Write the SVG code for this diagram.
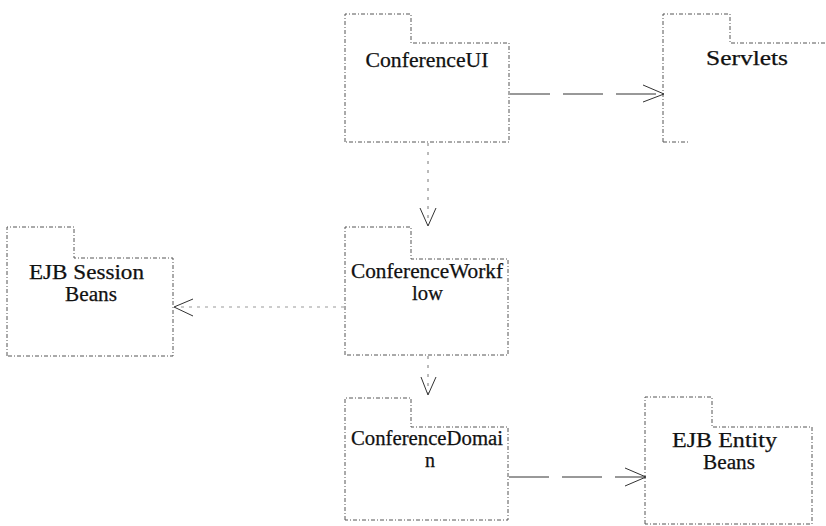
<svg xmlns="http://www.w3.org/2000/svg" width="826" height="526" viewBox="0 0 826 526">
  <defs>
    <style>
      .pkg { fill: none; stroke: #555; stroke-width: 1; stroke-dasharray: 4 2 1 2; }
      .lbl { font-family: "Liberation Serif", "DejaVu Serif", serif; font-size: 20px; fill: #111; stroke: #111; stroke-width: 0.25; text-anchor: middle; }
      .dep { fill: none; stroke: #333; stroke-width: 1; }
      .dash-h { stroke-dasharray: 40 13; }
      .dash-v { stroke-dasharray: 3 6; stroke: #777; }
      .dash-w { stroke-dasharray: 3 5; stroke: #999; }
      .head { fill: none; stroke: #333; stroke-width: 1; }
    </style>
  </defs>
  <rect width="826" height="526" fill="#fff"/>

  <!-- packages: tab + body outline -->
  <g id="conference-ui">
    <path class="pkg" d="M345,142 V14 H411 V43 H509 V142 Z"/>
    <text class="lbl" x="427" y="67" textLength="123" lengthAdjust="spacingAndGlyphs">ConferenceUI</text>
  </g>

  <g id="servlets">
    <path class="pkg" d="M663,142 V14 H730 V43 H830 M663,142 H690"/>
    <text class="lbl" x="747" y="65" textLength="82" lengthAdjust="spacingAndGlyphs">Servlets</text>
  </g>

  <g id="ejb-session-beans">
    <path class="pkg" d="M7,356 V227 H74 V258 H173 V356 Z"/>
    <text class="lbl"><tspan x="86.5" y="279" textLength="115" lengthAdjust="spacingAndGlyphs">EJB Session</tspan><tspan x="91" y="301" textLength="52" lengthAdjust="spacingAndGlyphs">Beans</tspan></text>
  </g>

  <g id="conference-workflow">
    <path class="pkg" d="M345,355 V227 H411 V259 H508 V355 Z"/>
    <text class="lbl"><tspan x="427" y="278" textLength="152" lengthAdjust="spacingAndGlyphs">ConferenceWorkf</tspan><tspan x="427.5" y="300" textLength="31" lengthAdjust="spacingAndGlyphs">low</tspan></text>
  </g>

  <g id="conference-domain">
    <path class="pkg" d="M345,520 V398 H411 V427 H508 V520 Z"/>
    <text class="lbl"><tspan x="427" y="445" textLength="152" lengthAdjust="spacingAndGlyphs">ConferenceDomai</tspan><tspan x="430" y="467">n</tspan></text>
  </g>

  <g id="ejb-entity-beans">
    <path class="pkg" d="M645,524 V397 H712 V427 H812 V524 Z"/>
    <text class="lbl"><tspan x="724.5" y="447" textLength="105" lengthAdjust="spacingAndGlyphs">EJB Entity</tspan><tspan x="729" y="469" textLength="52" lengthAdjust="spacingAndGlyphs">Beans</tspan></text>
  </g>

  <!-- dependency connectors -->
  <g id="connectors">
    <!-- ConferenceUI to Servlets -->
    <path class="dep dash-h" d="M510,94 H663"/>
    <path class="head" d="M643,85 L664,94 L643,102"/>
    <!-- ConferenceUI to ConferenceWorkflow -->
    <path class="dep dash-v" d="M428,143 V225"/>
    <path class="head" d="M420,208 L428,226 L436,208"/>
    <!-- ConferenceWorkflow to EJB Session Beans -->
    <path class="dep dash-w" d="M344,307 H175"/>
    <path class="head" d="M193,299 L174,307 L193,316"/>
    <!-- ConferenceWorkflow to ConferenceDomain -->
    <path class="dep dash-v" d="M428,356 V394"/>
    <path class="head" d="M421,377 L428,395 L436,377"/>
    <!-- ConferenceDomain to EJB Entity Beans -->
    <path class="dep dash-h" d="M509,477 H645"/>
    <path class="head" d="M625,468 L646,477 L625,486"/>
  </g>
</svg>
